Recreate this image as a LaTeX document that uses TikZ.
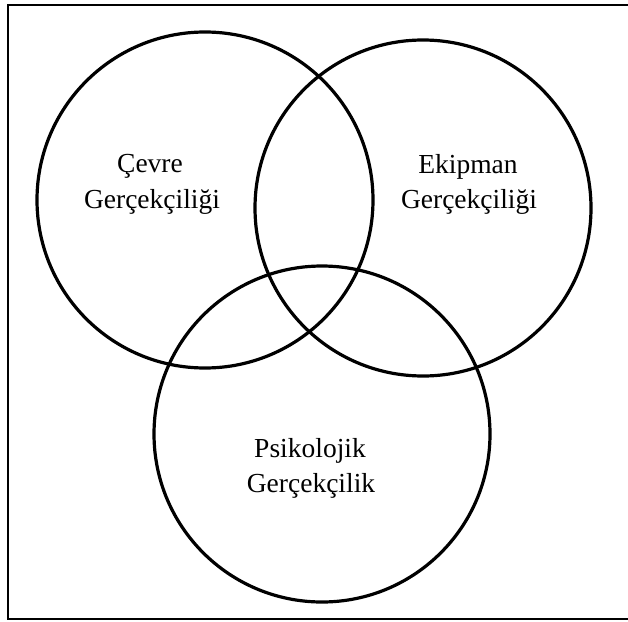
\documentclass[tikz,border=0pt]{standalone}
\usepackage{fontspec}
\setmainfont{Liberation Serif}
\begin{document}
\begin{tikzpicture}[x=1pt,y=-1pt,
  ring/.style={draw=black,line width=3.2pt,circle,inner sep=0pt},
  label/.style={font=\fontsize{27.5}{32}\selectfont,anchor=base,inner sep=0pt}]
\useasboundingbox (0,0) rectangle (628,621);
% open frame (its right side runs off the page)
\draw[line width=2pt] (628,5) -- (8,5) -- (8,619) -- (628,619);
% the three overlapping rings
\node[ring,minimum size=336pt] (env) at (205,200) {};
\node[ring,minimum size=336pt] (equip) at (423,208) {};
\node[ring,minimum size=336pt] (psy) at (322,434) {};
% labels
\node[label] (envA) at (150,172) {Çevre};
\node[label] (envB) at (152,208) {Gerçekçiliği};
\node[label] (equipA) at (468,173) {Ekipman};
\node[label] (equipB) at (469,208) {Gerçekçiliği};
\node[label] (psyA) at (310,457) {Psikolojik};
\node[label] (psyB) at (311,492) {Gerçekçilik};
\end{tikzpicture}
\end{document}
